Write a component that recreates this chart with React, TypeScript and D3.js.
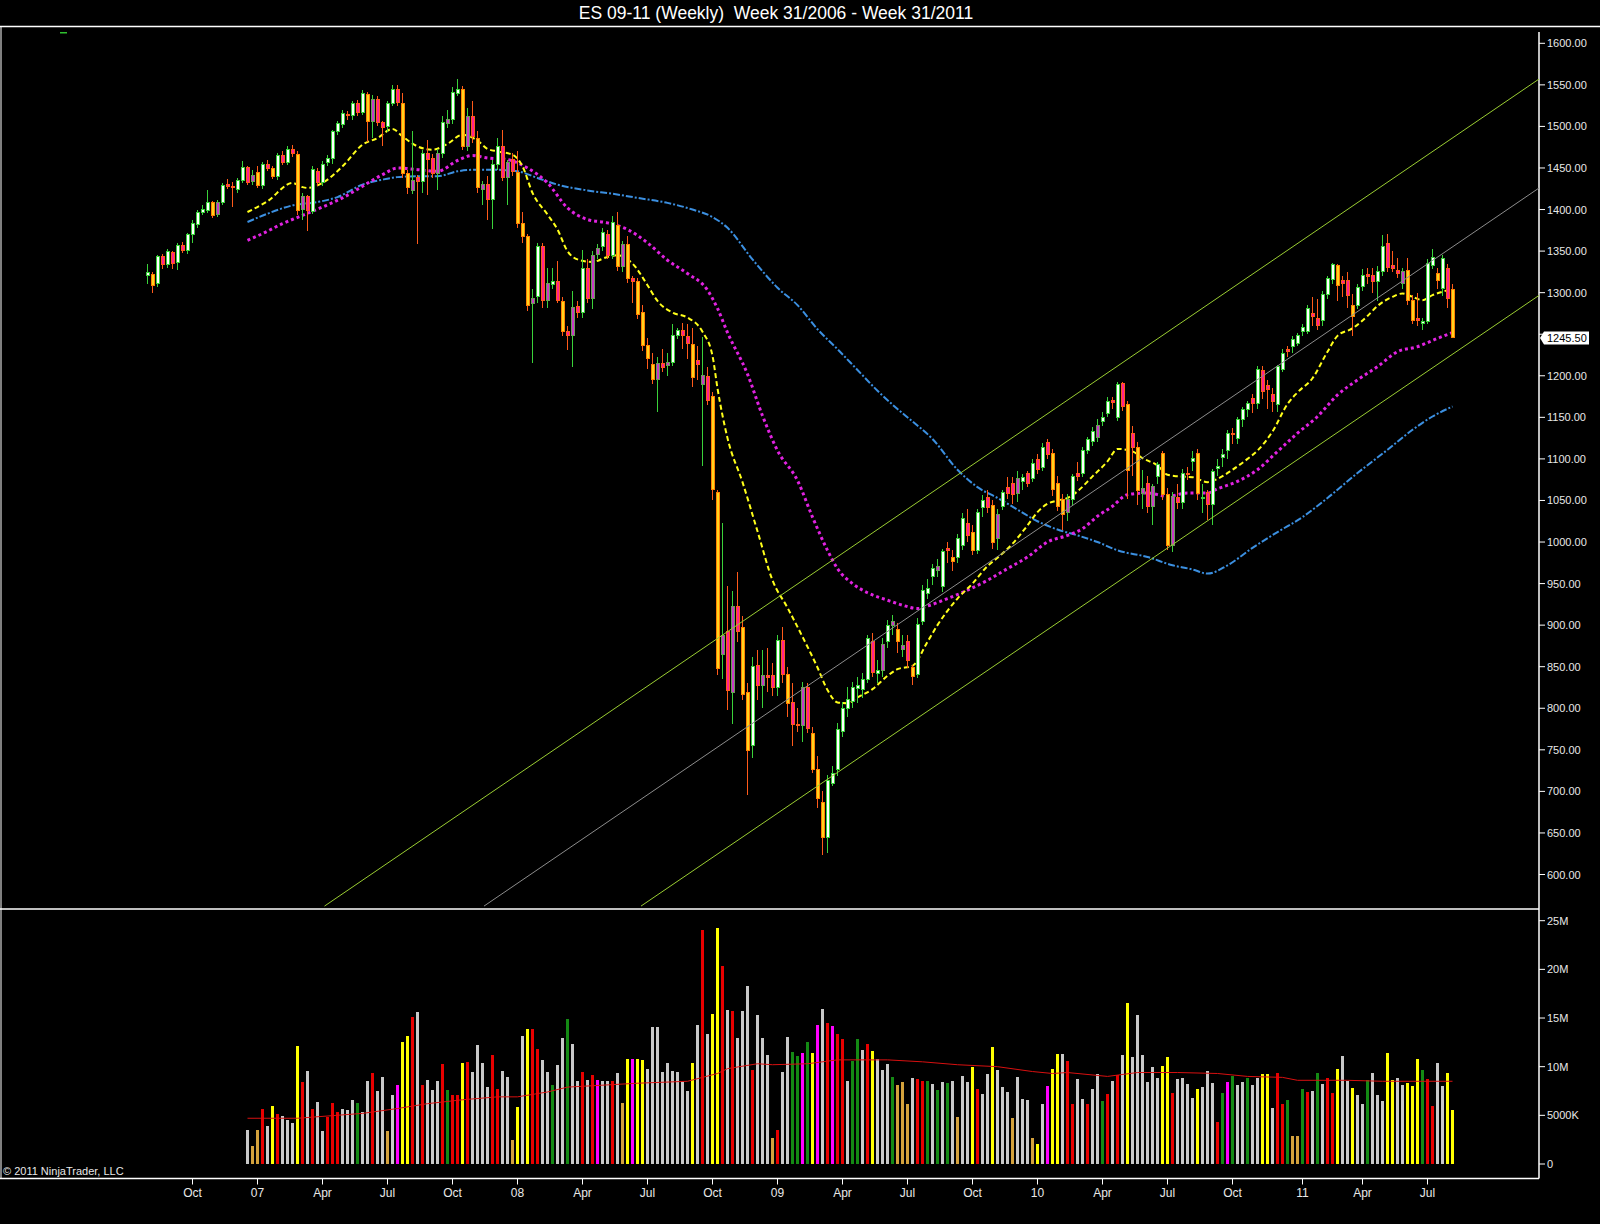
import React from "react";
import * as d3 from "d3";

// ---------- DATA (weekly bars, week 31/2006 .. week 31/2011) ----------
const firstBarDate = "2006-08-04";

const opens = [
1321,1322,1311,1344,1334,1348,1336,1357,1351,1370,
1382,1397,1399,1408,1394,1409,1430,1428,1424,1435,
1450,1434,1445,1429,1454,1449,1440,1465,1456,1472,
1466,1400,1416,1398,1446,1432,1457,1462,1494,1502,
1514,1513,1528,1517,1539,1506,1532,1505,1500,1528,
1544,1528,1443,1423,1439,1434,1468,1461,1443,1468,
1504,1508,1540,1545,1476,1512,1486,1424,1430,1412,
1454,1476,1438,1460,1444,1383,1367,1287,1295,1356,
1290,1310,1314,1289,1253,1249,1283,1276,1329,1293,
1346,1355,1370,1345,1381,1331,1358,1317,1314,1276,
1236,1214,1196,1215,1212,1216,1248,1254,1247,1238,
1218,1190,1199,1175,1059,865,892,819,922,897,
819,755,852,827,840,840,825,881,841,807,
781,779,825,770,726,687,644,710,726,772,
800,808,824,823,835,880,842,845,880,900,
895,871,880,849,841,904,938,958,966,946,
992,981,981,996,1022,1012,990,1041,1054,1044,
1004,1043,1066,1070,1058,1073,1082,1077,1099,1090,
1120,1107,1071,1051,1035,1051,1083,1082,1110,1121,
1126,1145,1155,1170,1150,1191,1165,1131,1114,1058,
1071,1043,1079,1107,1057,996,1053,1047,1083,1097,
1106,1052,1059,1045,1088,1102,1110,1131,1125,1147,
1159,1173,1167,1206,1188,1178,1166,1208,1232,1235,
1239,1253,1253,1275,1269,1267,1298,1316,1333,1315,
1315,1285,1285,1307,1322,1321,1313,1325,1359,1333,
1327,1311,1327,1291,1269,1263,1265,1333,1323,1305,
1329,1304];

const highs = [
1334,1325,1345,1346,1352,1350,1360,1361,1372,1387,
1400,1405,1423,1410,1411,1432,1437,1433,1438,1458,
1452,1448,1452,1457,1460,1452,1468,1470,1477,1478,
1470,1420,1418,1452,1450,1458,1466,1496,1506,1520,
1518,1530,1532,1544,1541,1538,1537,1507,1530,1550,
1550,1540,1447,1494,1442,1472,1484,1467,1473,1512,
1520,1548,1557,1549,1522,1530,1495,1434,1440,1460,
1486,1496,1460,1468,1470,1397,1370,1305,1360,1360,
1330,1330,1338,1295,1260,1302,1290,1351,1340,1350,
1358,1378,1375,1392,1397,1362,1368,1320,1318,1285,
1245,1228,1222,1232,1228,1262,1258,1264,1262,1258,
1236,1247,1210,1180,1062,1023,947,941,964,911,
830,862,870,870,872,855,888,898,850,830,
800,832,830,778,742,700,720,730,782,808,
825,832,838,842,888,890,858,885,906,912,
902,888,888,852,908,948,955,974,980,992,
1000,990,1010,1035,1040,1020,1040,1056,1062,1050,
1040,1063,1078,1078,1085,1082,1086,1100,1106,1119,
1124,1112,1080,1058,1058,1082,1096,1114,1126,1138,
1148,1156,1175,1175,1193,1192,1170,1140,1120,1087,
1080,1070,1096,1110,1065,1060,1070,1088,1090,1110,
1112,1070,1062,1088,1100,1112,1135,1137,1150,1163,
1170,1178,1212,1212,1195,1185,1213,1232,1236,1248,
1252,1262,1285,1295,1292,1302,1320,1336,1335,1320,
1325,1298,1310,1328,1330,1330,1332,1369,1370,1350,
1342,1330,1342,1297,1300,1270,1340,1352,1330,1345,
1335,1310];

const lows = [
1311,1299,1307,1328,1330,1328,1327,1348,1347,1360,
1378,1394,1396,1390,1391,1405,1425,1403,1420,1432,
1430,1430,1426,1425,1446,1437,1436,1453,1453,1463,
1393,1387,1374,1395,1428,1428,1452,1455,1490,1498,
1508,1508,1512,1514,1481,1486,1500,1476,1493,1525,
1525,1438,1419,1419,1359,1420,1418,1438,1424,1462,
1498,1503,1537,1472,1470,1480,1420,1405,1387,1376,
1448,1434,1406,1440,1378,1360,1278,1215,1288,1282,
1282,1305,1288,1248,1231,1211,1270,1270,1288,1280,
1340,1350,1340,1340,1326,1325,1312,1287,1268,1230,
1208,1190,1156,1205,1200,1212,1244,1232,1220,1186,
1195,1091,1165,1050,840,835,798,781,880,810,
696,740,810,800,820,815,815,830,790,755,
772,760,770,722,680,623,626,706,718,765,
790,800,806,812,830,838,830,838,872,888,
866,862,848,828,836,900,932,948,958,940,
975,965,975,990,1000,984,985,1030,1035,992,
990,1038,1052,1046,1048,1062,1066,1072,1082,1085,
1100,1055,1037,1015,1025,1045,1074,1078,1106,1115,
1120,1140,1150,1160,1145,1158,1052,1080,1045,1040,
1035,1020,1070,1050,990,988,1040,1040,1075,1085,
1050,1035,1027,1020,1080,1090,1100,1118,1118,1138,
1150,1155,1160,1172,1160,1156,1157,1204,1222,1228,
1236,1248,1250,1260,1255,1260,1292,1310,1290,1295,
1282,1248,1280,1302,1310,1300,1290,1320,1325,1325,
1318,1305,1285,1262,1260,1255,1262,1328,1305,1296,
1282,1245];

const closes = [
1324,1309,1343,1334,1349,1335,1357,1351,1370,1383,
1397,1400,1409,1393,1409,1429,1428,1427,1435,1450,
1433,1441,1429,1454,1449,1440,1465,1456,1472,1467,
1399,1416,1399,1448,1432,1454,1462,1494,1503,1516,
1513,1528,1517,1540,1506,1532,1505,1499,1528,1544,
1529,1443,1427,1435,1434,1468,1460,1443,1468,1505,
1508,1541,1545,1476,1512,1488,1426,1430,1412,1454,
1476,1438,1456,1446,1383,1368,1285,1293,1356,1290,
1311,1314,1291,1253,1249,1282,1276,1329,1293,1345,
1353,1372,1345,1384,1331,1358,1317,1314,1274,1236,
1221,1196,1215,1210,1216,1248,1254,1248,1239,1198,
1214,1200,1170,1063,848,888,821,923,892,817,
749,850,827,840,837,825,882,841,806,780,
779,825,776,726,692,644,713,722,774,800,
811,825,827,835,884,843,845,877,900,904,
880,876,857,838,901,942,944,968,970,988,
990,976,1004,1028,1008,990,1035,1050,1042,999,
1033,1059,1058,1057,1076,1078,1071,1095,1087,1114,
1105,1063,1043,1033,1051,1079,1079,1110,1123,1133,
1140,1150,1169,1168,1190,1163,1086,1114,1062,1064,
1043,1067,1093,1057,996,1055,1047,1083,1081,1101,
1058,1054,1045,1085,1091,1105,1130,1129,1147,1160,
1167,1167,1208,1181,1184,1169,1211,1227,1229,1244,
1249,1258,1281,1271,1261,1298,1317,1334,1309,1311,
1296,1271,1306,1321,1320,1313,1325,1355,1330,1329,
1323,1325,1291,1266,1266,1265,1335,1342,1315,1341,
1293,1245.5];

// W = up (white), M = up (magenta), Y = down (yellow), P = down (pink)
const barKinds =
  "WYWPWPWPWW" + "WWWYMWPPWW" + "PMYWPYWPWP" + "YMPWPWWWWW" + "PWPWYMPPWW" +
  "PYYMPWPPMW" + "MWWYMPYMPW" + "WPMPYYYMWP" + "MWPYPMPWPM" + "MWPWYMYPYY" +
  "YYMPMWWPPY" + "PMPYYMPMPY" + "YWPMPPWPYP" + "PMPYYYWWWW" + "WWWWWPWMWM" +
  "YMPYWWWWMW" + "PYWWPYWWPY" + "MWPPMWPWPW" + "PYYYMWPWWW" + "MWWPWPYPYM" +
  "PMWYYMPWPW" + "YWPWWWWPWW" + "WPWPPPWWPW" + "WWWPPWWWYP" + "PYWWPPWWPP" +
  "PMYYPWWWYW" + "PY";

// volume (millions), starting at bar 20
const volumeFirstBar = 20;
const volumes = [
3.5,1.8,3.5,5.7,3.9,6.0,5.1,4.9,4.5,4.2,
12.1,8.4,9.6,5.7,6.4,3.4,4.8,6.3,5.3,5.7,
5.5,6.6,6.3,5.3,8.5,9.3,7.5,8.9,3.4,7.1,
8.1,12.5,13.2,15.1,15.6,8.1,8.6,7.6,8.5,10.3,
7.6,7.1,7.1,10.4,10.5,9.5,12.2,10.4,7.9,11.2,
7.7,9.6,8.9,2.5,5.9,13.2,13.9,13.9,11.8,10.7,
9.5,8.1,10.2,12.9,14.9,12.3,8.5,9.5,8.6,9.1,
8.6,8.5,8.5,8.5,9.4,6.3,10.8,10.8,10.8,10.7,
9.8,14.1,14.1,9.5,10.4,9.6,9.5,8.4,7.5,10.4,
14.3,24.0,13.4,15.4,24.2,20.3,15.8,15.7,12.9,15.7,
18.3,9.7,15.3,12.9,11.2,2.7,3.5,9.5,13.0,11.5,
11.1,11.4,12.5,11.4,14.3,15.9,14.5,14.2,13.4,12.8,
8.5,10.6,12.8,11.7,12.3,11.6,10.8,9.7,10.3,8.9,
8.1,8.4,6.2,8.8,8.7,8.5,8.5,8.2,7.6,8.4,
8.3,8.5,4.8,9.0,8.4,10.0,7.7,7.2,9.2,12.0,
9.7,7.9,7.4,4.7,8.9,6.7,6.6,2.7,2.1,6.2,
8.0,9.8,11.3,11.3,10.6,6.2,8.7,6.7,6.2,7.7,
9.2,6.5,7.2,8.5,9.1,11.2,16.5,11.0,15.3,11.2,
8.4,10.0,8.8,10.1,11.0,7.3,8.7,8.8,8.2,6.8,
7.7,7.9,9.6,8.3,4.3,7.3,8.4,9.0,8.1,8.4,
8.8,8.1,8.8,9.2,9.2,5.8,9.4,6.2,6.6,2.9,
2.9,7.7,7.4,7.5,9.3,8.2,8.8,7.3,9.8,11.1,
8.5,7.8,7.1,6.2,8.6,9.3,7.1,6.5,11.4,8.6,
8.8,8.1,8.3,8.0,10.8,9.7,8.7,6.0,10.4,8.0,
9.4,5.5];

// s = silver, r = red, y = yellow, o = tan, g = green, m = magenta
const volumeKinds =
  "soorsyrsss" + "yrsrssrrrs" + "ssgssrssos" + "myyrsrsssr" + "grryrssssr" +
  "rssoysyrrs" + "sgssgssrsr" + "mssrsoymyy" + "sssssssssy" + "srsyyrsrss" +
  "srsssorssg" + "gmgymsrmrr" + "sggsrysssg" + "ooosrrgsgs" + "gsossyrssy" +
  "sssosssoys" + "myysrrssrs" + "sgrsrsysss" + "sssyyrssss" + "ysssrgmgss" +
  "gssyysrrgo" + "ogrsgsrrys" + "syssgsssyy" + "ssyyygrrss" + "yy";

// indicator lines: [bar, value]
const volumeAverage: [number, number][] = [
[20,4.7],[30,4.7],[43,5.2],[50,5.7],[56,6.2],[63,6.6],[70,6.9],[74,6.9],[80,7.4],[84,7.9],
[98,8.3],[108,8.5],[114,9.3],[116,9.8],[122,10.3],[125,10.2],[132,10.3],[138,10.7],[148,10.7],
[155,10.5],[162,10.2],[170,10.0],[177,9.5],[181,9.3],[184,9.4],[192,9.0],[198,9.4],[206,9.4],
[214,9.3],[220,9.0],[227,8.9],[230,8.6],[240,8.6],[247,8.5],[261,8.5]];

const maFast: [number, number][] = [
[20,1397],[24,1410],[29,1432],[31,1427],[32,1426],[35,1432],[39,1452],[43,1478],[46,1486],[49,1497],
[51,1488],[54,1476],[57,1472],[60,1479],[63,1490],[66,1483],[68,1473],[70,1470],[73,1466],[75,1452],
[77,1420],[80,1394],[82,1376],[84,1350],[86,1340],[89,1337],[92,1343],[94,1345],[97,1335],[100,1309],
[102,1290],[105,1276],[108,1270],[111,1253],[113,1224],[114,1185],[116,1125],[119,1072],[122,1013],
[125,954],[128,921],[131,886],[134,849],[136,822],[138,807],[140,806],[142,813],[145,823],[148,839],
[150,847],[153,851],[156,880],[158,900],[162,932],[165,950],[168,971],[170,981],[173,998],[176,1020],
[178,1036],[180,1046],[182,1050],[184,1053],[186,1061],[189,1079],[192,1097],[194,1112],[197,1109],
[199,1101],[202,1092],[204,1081],[206,1079],[209,1078],[212,1072],[214,1076],[217,1087],[220,1100],
[222,1110],[225,1133],[228,1166],[230,1180],[233,1197],[236,1229],[238,1248],[241,1257],[244,1272],
[246,1284],[249,1295],[251,1299],[253,1295],[255,1291],[257,1297],[260,1303],[261,1305]];

const maMid: [number, number][] = [
[20,1363],[23,1371],[27,1383],[31,1393],[35,1403],[39,1414],[43,1428],[47,1442],[50,1450],[54,1448],
[58,1446],[62,1459],[65,1465],[68,1462],[72,1460],[76,1450],[80,1432],[84,1402],[88,1388],[92,1384],
[96,1376],[100,1360],[104,1339],[108,1323],[112,1303],[114,1281],[116,1252],[120,1202],[123,1152],
[126,1110],[130,1074],[133,1030],[136,990],[138,968],[141,950],[144,939],[148,930],[151,924],[154,920],
[156,923],[160,932],[164,942],[168,954],[172,968],[176,982],[180,1000],[184,1008],[187,1016],[190,1031],
[193,1043],[196,1057],[200,1059],[204,1055],[208,1059],[212,1059],[214,1064],[218,1073],[222,1087],
[226,1109],[230,1131],[234,1151],[238,1177],[242,1195],[246,1211],[250,1229],[254,1235],[258,1245],[261,1252]];

const maSlow: [number, number][] = [
[20,1385],[24,1395],[29,1405],[34,1409],[38,1415],[43,1430],[47,1436],[50,1439],[54,1440],[58,1440],
[62,1446],[66,1448],[69,1448],[74,1446],[78,1438],[82,1430],[88,1423],[93,1419],[98,1414],[104,1408],
[109,1400],[113,1391],[116,1378],[121,1340],[126,1306],[130,1285],[134,1256],[138,1232],[142,1207],
[146,1182],[150,1160],[153,1145],[157,1124],[162,1087],[166,1066],[170,1053],[174,1039],[178,1025],
[182,1015],[186,1008],[190,1000],[194,990],[200,982],[205,972],[209,967],[212,962],[216,972],[221,993],
[226,1012],[231,1030],[236,1053],[242,1083],[248,1111],[253,1135],[257,1151],[261,1163]];

// regression channel drawn on the chart: [bar, price] end points
const channelUpper: [number, number][] = [[35.4, 562], [278.3, 1557]];
const channelMiddle: [number, number][] = [[67.3, 562], [278.3, 1425.9]];
const channelLower: [number, number][] = [[98.7, 562], [278.3, 1296.7]];

const priceTicks = d3.range(600, 1601, 50);
const volumeTicks = [0, 5, 10, 15, 20, 25];
const volumeTickLabels = ["0", "5000K", "10M", "15M", "20M", "25M"];
const timeTicks: [string, string][] = [
["2006-10","Oct"],["2007-01","07"],["2007-04","Apr"],["2007-07","Jul"],["2007-10","Oct"],
["2008-01","08"],["2008-04","Apr"],["2008-07","Jul"],["2008-10","Oct"],["2009-01","09"],
["2009-04","Apr"],["2009-07","Jul"],["2009-10","Oct"],["2010-01","10"],["2010-04","Apr"],
["2010-07","Jul"],["2010-10","Oct"],["2011-01","11"],["2011-04","Apr"],["2011-07","Jul"]];

const title = "ES 09-11 (Weekly)  Week 31/2006 - Week 31/2011";
const copyright = "\u00A9 2011 NinjaTrader, LLC";
const lastPrice = 1245.5;

// ---------- LAYOUT ----------
const WIDTH = 1600;
const HEIGHT = 1224;
const AXIS_X = 1539;
const PRICE_TOP = 27;
const PRICE_BOTTOM = 909;
const PANEL_BOTTOM = 1178.5;
const FONT = "'Liberation Sans', Arial, Helvetica, sans-serif";

const x = d3.scaleLinear().domain([0, 261]).range([147.5, 1452.5]);
const y = d3.scaleLinear().domain([600, 1600]).range([874.5, 43.3]);
const yv = d3.scaleLinear().domain([0, 25]).range([1164, 920.7]);

const candleStyle: Record<string, { fill: string; stroke: string; wick: string }> = {
  W: { fill: "#ffffff", stroke: "#3ad23a", wick: "#3ad23a" },
  M: { fill: "#c83ac8", stroke: "#6c9c58", wick: "#3ad23a" },
  Y: { fill: "#ffd21e", stroke: "#ff8000", wick: "#ff5a1a" },
  P: { fill: "#ff2090", stroke: "#ff5a1a", wick: "#ff5a1a" },
};
const volumeColor: Record<string, string> = {
  s: "#c8c8c8", r: "#e80000", y: "#ffff00", o: "#d4a23c", g: "#148a14", m: "#ff00ff",
};

const t0 = Date.parse(firstBarDate + "T00:00:00Z");
function barOfMonth(ym: string): number {
  const [yy, mm] = ym.split("-").map(Number);
  const t = Date.UTC(yy, mm - 1, 1);
  return Math.ceil((t - t0) / (7 * 86400000));
}

const maLine = d3
  .line<[number, number]>()
  .x((d) => x(d[0]))
  .y((d) => y(d[1]))
  .curve(d3.curveMonotoneX);
const straight = d3
  .line<[number, number]>()
  .x((d) => x(d[0]))
  .y((d) => y(d[1]));
const volLine = d3
  .line<[number, number]>()
  .x((d) => x(d[0]))
  .y((d) => yv(d[1]));

export default function App() {
  const yLast = y(lastPrice);
  // axis labels hidden under the last-price marker
  const visiblePriceTicks = priceTicks.filter((p) => Math.abs(y(p) - yLast) > 11);
  return (
    <svg
      width={WIDTH}
      height={HEIGHT}
      style={{ position: "absolute", left: 0, top: 0, display: "block" }}
      fontFamily={FONT}
    >
      <defs>
        <clipPath id="pricePanel">
          <rect x={0} y={PRICE_TOP} width={AXIS_X} height={PRICE_BOTTOM - PRICE_TOP} />
        </clipPath>
      </defs>
      <rect x={0} y={0} width={WIDTH} height={HEIGHT} fill="#000" />

      {/* title */}
      <text x={776} y={13} fill="#ffffff" fontSize={17.5} textAnchor="middle" dominantBaseline="central" xmlSpace="preserve" style={{ whiteSpace: "pre" }}>
        {title}
      </text>

      {/* frame */}
      <line x1={0} x2={WIDTH} y1={26.5} y2={26.5} stroke="#fff" strokeWidth={1.5} />
      <line x1={1} x2={1} y1={27} y2={PANEL_BOTTOM} stroke="#fff" strokeWidth={1} />
      <line x1={0} x2={AXIS_X} y1={PRICE_BOTTOM} y2={PRICE_BOTTOM} stroke="#fff" strokeWidth={1.5} />
      <line x1={0} x2={AXIS_X} y1={PANEL_BOTTOM} y2={PANEL_BOTTOM} stroke="#fff" strokeWidth={1.5} />
      <line x1={AXIS_X} x2={AXIS_X} y1={32} y2={PANEL_BOTTOM} stroke="#fff" strokeWidth={1.5} />
      <rect x={60} y={32} width={7} height={1.5} fill="#2fbf2f" />

      <g clipPath="url(#pricePanel)">
        {/* moving averages */}
        <path d={maLine(maSlow) || ""} fill="none" stroke="#3b8fe0" strokeWidth={2} strokeDasharray="7,2,2,2" />
        <path d={maLine(maMid) || ""} fill="none" stroke="#e022e0" strokeWidth={3} strokeDasharray="3,3" />
        <path d={maLine(maFast) || ""} fill="none" stroke="#ffff1a" strokeWidth={2} strokeDasharray="5,3" />

        {/* candles */}
        <g shapeRendering="crispEdges">
          {opens.map((o, i) => {
            const c = closes[i];
            const st = candleStyle[barKinds[i]] || candleStyle.W;
            const cx = x(i);
            const top = y(Math.max(o, c));
            const bot = y(Math.min(o, c));
            return (
              <g key={i}>
                <line x1={cx} x2={cx} y1={y(highs[i])} y2={y(lows[i])} stroke={st.wick} strokeWidth={1} />
                <rect x={cx - 1.5} y={top} width={3} height={Math.max(bot - top, 1)} fill={st.fill} stroke={st.stroke} strokeWidth={1} />
              </g>
            );
          })}
        </g>

        {/* channel */}
        <path d={straight(channelUpper) || ""} stroke="#9acd32" strokeWidth={1} fill="none" />
        <path d={straight(channelMiddle) || ""} stroke="#8c8c8c" strokeWidth={1} fill="none" />
        <path d={straight(channelLower) || ""} stroke="#9acd32" strokeWidth={1} fill="none" />
      </g>

      {/* price axis */}
      {priceTicks.map((p) => (
        <line key={"t" + p} x1={AXIS_X} x2={AXIS_X + 6} y1={y(p)} y2={y(p)} stroke="#fff" strokeWidth={1} />
      ))}
      {visiblePriceTicks.map((p) => (
        <text key={"l" + p} x={AXIS_X + 8} y={y(p)} fill="#e8e8e8" fontSize={11} dominantBaseline="central">
          {p.toFixed(2)}
        </text>
      ))}

      {/* last price marker */}
      <polygon
        points={`${AXIS_X + 1},${yLast} ${AXIS_X + 5},${yLast - 6.5} ${AXIS_X + 50},${yLast - 6.5} ${AXIS_X + 50},${yLast + 6.5} ${AXIS_X + 5},${yLast + 6.5}`}
        fill="#ffffff"
      />
      <text x={AXIS_X + 8} y={yLast} fill="#000" fontSize={11} dominantBaseline="central">
        {lastPrice.toFixed(2)}
      </text>

      {/* volume */}
      <g shapeRendering="crispEdges">
        {volumes.map((v, k) => {
          const i = k + volumeFirstBar;
          const cx = x(i);
          return (
            <rect
              key={i}
              x={cx - 1.5}
              y={yv(v)}
              width={3}
              height={yv(0) - yv(v)}
              fill={volumeColor[volumeKinds[k]] || "#c8c8c8"}
            />
          );
        })}
      </g>
      <path d={volLine(volumeAverage) || ""} fill="none" stroke="#d81010" strokeWidth={1} />

      {volumeTicks.map((v, k) => (
        <g key={v}>
          <line x1={AXIS_X} x2={AXIS_X + 6} y1={yv(v)} y2={yv(v)} stroke="#fff" strokeWidth={1} />
          <text x={AXIS_X + 8} y={yv(v)} fill="#e8e8e8" fontSize={11} dominantBaseline="central">
            {volumeTickLabels[k]}
          </text>
        </g>
      ))}

      {/* time axis */}
      {timeTicks.map(([ym, label]) => {
        const tx = x(barOfMonth(ym));
        return (
          <g key={ym}>
            <line x1={tx} x2={tx} y1={PANEL_BOTTOM} y2={PANEL_BOTTOM + 6} stroke="#fff" strokeWidth={1} />
            <text x={tx} y={1193} fill="#e8e8e8" fontSize={12} textAnchor="middle" dominantBaseline="central">
              {label}
            </text>
          </g>
        );
      })}

      <text x={3} y={1171} fill="#e8e8e8" fontSize={11} dominantBaseline="central">
        {copyright}
      </text>
    </svg>
  );
}
